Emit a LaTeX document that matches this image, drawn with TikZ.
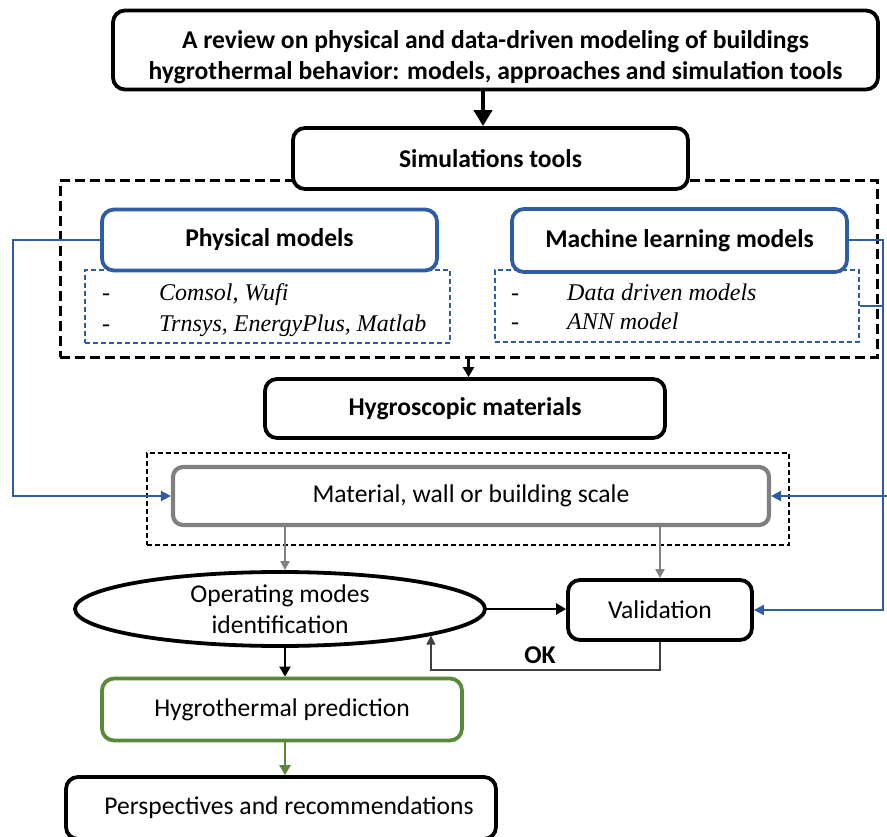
\documentclass[tikz,border=0pt]{standalone}
\usepackage{fontspec}
\setmainfont{Carlito}
\newfontfamily\listfont{Liberation Serif}
\usetikzlibrary{arrows.meta,shapes.geometric}
\definecolor{boxblue}{RGB}{47,92,166}
\definecolor{boxgreen}{RGB}{88,138,58}
\definecolor{boxgray}{RGB}{128,128,128}
\newcommand{\labelsize}{\fontsize{25.6}{31}\selectfont}
\tikzset{
  blackbox/.style={draw=black,line width=3.8pt,rounded corners=12pt,fill=white,
    font=\labelsize\bfseries,align=center,inner sep=0pt},
  bluebox/.style={draw=boxblue,line width=3.8pt,rounded corners=12pt,fill=white,
    font=\labelsize\bfseries,inner sep=0pt},
  listbox/.style={draw=boxblue,line width=1.4pt,dash pattern=on 5pt off 3pt,inner sep=0pt},
  groupbox/.style={draw=black,line width=3pt,dash pattern=on 10pt off 5pt,inner sep=0pt},
  thingroup/.style={draw=black,line width=1.5pt,dash pattern=on 5pt off 3pt,inner sep=0pt},
  graybox/.style={draw=boxgray,line width=4.2pt,rounded corners=10pt,fill=white,
    font=\labelsize,inner sep=0pt},
  greenbox/.style={draw=boxgreen,line width=3.8pt,rounded corners=12pt,fill=white,
    font=\labelsize,inner sep=0pt},
  plainbox/.style={draw=black,line width=3.8pt,rounded corners=12pt,fill=white,
    font=\labelsize,inner sep=0pt,align=center},
  listtext/.style={font=\fontsize{24}{31}\selectfont\listfont\itshape,anchor=base west,inner sep=0pt},
  dashtext/.style={font=\fontsize{24}{31}\selectfont\listfont,anchor=base west,inner sep=0pt},
  bigarrow/.style={line width=4pt,-{Triangle[length=16pt,width=18pt]}},
  blackarrow/.style={line width=2.4pt,-{Triangle[length=10pt,width=11pt]}},
  grayarrow/.style={draw=boxgray,line width=2pt,-{Triangle[length=9pt,width=9pt]}},
  greenarrow/.style={draw=boxgreen,line width=2.5pt,-{Triangle[length=10pt,width=11pt]}},
  blueline/.style={draw=boxblue,line width=2pt},
  bluearrow/.style={blueline,-{Triangle[length=10pt,width=10pt]}},
  okline/.style={draw=black!75,line width=1.2pt,-{Triangle[length=9pt,width=9pt]}},
}
\begin{document}
\begin{tikzpicture}[x=1pt,y=-1pt]
\clip (0,0) rectangle (887,837);
\fill[white] (0,0) rectangle (887,837);

% title
\node[blackbox,minimum width=765pt,minimum height=79pt] (top) at (495.5,50) {};
\node[font=\labelsize\bfseries,align=center,inner sep=0pt] (toptext) at (495.5,57)
  {A review on physical and data-driven modeling of buildings\\
   hygrothermal behavior: models, approaches and simulation tools};

% group of simulation tools
\node[groupbox,minimum width=817pt,minimum height=176pt] (group) at (468.5,269) {};
\node[blackbox,minimum width=395pt,minimum height=61pt] (sim) at (490.5,158.5) {Simulations tools};

% physical models
\node[listbox,minimum width=365pt,minimum height=73pt] (physlist) at (267.5,306.5) {};
\node[bluebox,minimum width=335pt,minimum height=61pt] (phys) at (269.5,240) {Physical models};
\node[dashtext] (pd1) at (102,301) {-};
\node[dashtext] (pd2) at (102,332) {-};
\node[listtext] (pt1) at (159,301) {Comsol, Wufi};
\node[listtext] (pt2) at (159,332) {Trnsys, EnergyPlus, Matlab};

% machine learning models
\node[listbox,minimum width=364pt,minimum height=72pt] (mllist) at (677,306) {};
\node[bluebox,minimum width=335pt,minimum height=63pt] (ml) at (679.5,240.5) {Machine learning models};
\node[dashtext] (md1) at (511,301) {-};
\node[dashtext] (md2) at (511,330) {-};
\node[listtext] (mt1) at (567,301) {Data driven models};
\node[listtext] (mt2) at (567,330) {ANN model};

% materials
\node[blackbox,minimum width=400pt,minimum height=59pt] (hygro) at (465,408.5) {Hygroscopic materials};
\node[thingroup,minimum width=642pt,minimum height=92pt] (scalegroup) at (468,499) {};
\node[graybox,minimum width=596pt,minimum height=58pt] (material) at (471,496) {Material, wall or building scale};

% modes and validation
\node[ellipse,draw=black,line width=3.8pt,fill=white,minimum width=410pt,minimum height=74pt,
  inner sep=0pt,align=center,font=\labelsize] (modes) at (280,609)
  {Operating modes\\identification};
\node[plainbox,minimum width=184pt,minimum height=60pt] (valid) at (660,610) {Validation};

% results
\node[greenbox,minimum width=360pt,minimum height=62pt] (hyg) at (282,709.5) {Hygrothermal prediction};
\node[plainbox,minimum width=430pt,minimum height=62pt] (persp) at (281,808) {\hspace*{16pt}Perspectives and recommendations};

% side buses
\coordinate (lb) at (13,0);
\coordinate (rb) at (883,0);
\coordinate (re) at (887,0);

% connectors
\draw[bigarrow] ([xshift=-12.5pt]top.south) -- ([xshift=-12.5pt]top.south |- sim.north);
\draw[blackarrow] (group.south) -- (group.south |- hygro.north);
\draw[bluearrow] (phys.west) -- (phys.west -| lb) |- (material.west);
\draw[bluearrow] (ml.east) -- (ml.east -| rb) |- (valid.east);
\draw[blueline] (mllist.east) -- (mllist.east -| rb);
\draw[bluearrow] (re |- material.east) -- (material.east);
\draw[grayarrow] ([xshift=5pt]modes.north |- material.south) -- ([xshift=5pt]modes.north);
\draw[grayarrow] (valid.north |- material.south) -- (valid.north);
\draw[blackarrow] (modes.east) -- (modes.east -| valid.west);
\draw[okline] (valid.south) -- ++(0,28) -| (modes.-10);
\node[font=\labelsize\bfseries] (ok) at (540,655) {OK};
\draw[blackarrow] ([xshift=5pt]modes.south) -- ([xshift=5pt]modes.south |- hyg.north);
\draw[greenarrow] ([xshift=3pt]hyg.south) -- ([xshift=3pt]hyg.south |- persp.north);
\end{tikzpicture}
\end{document}
